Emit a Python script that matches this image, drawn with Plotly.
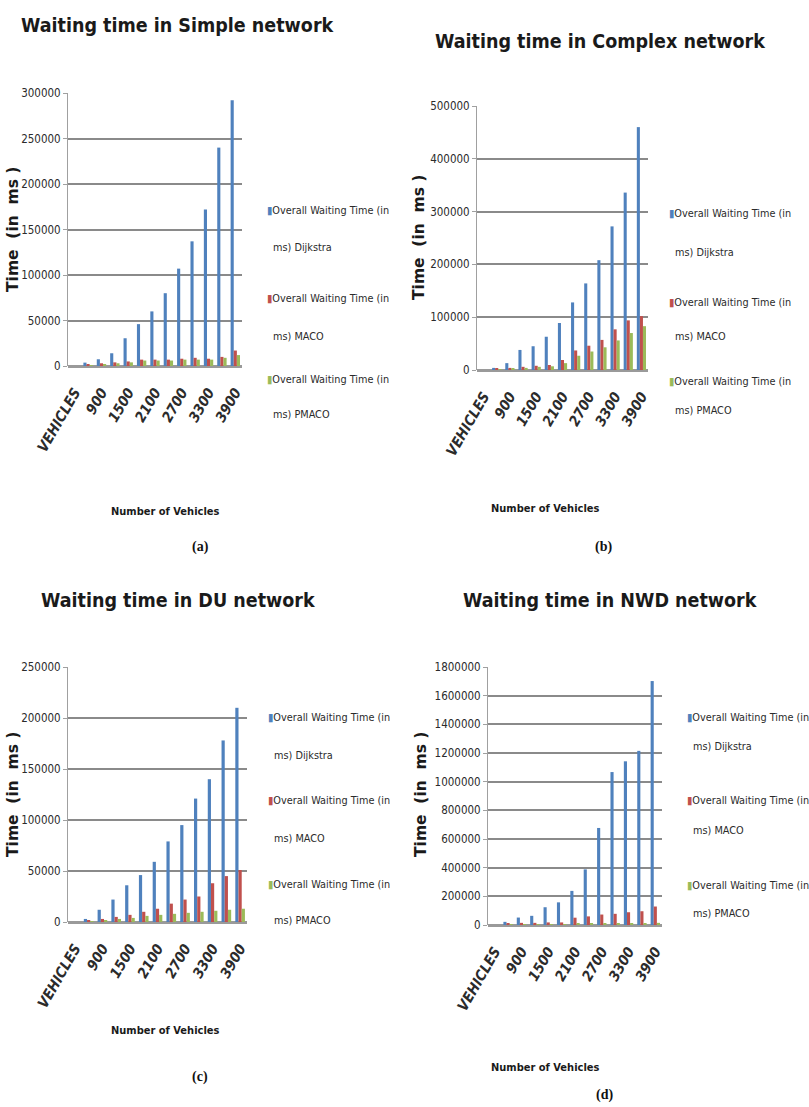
import plotly.graph_objects as go

W, H = 809, 1107

categories = ["VEHICLES", "600", "900", "1200", "1500", "1800", "2100",
              "2400", "2700", "3000", "3300", "3600", "3900"]
tick_labels = ["VEHICLES", "900", "1500", "2100", "2700", "3300", "3900"]

series_names = ["Dijkstra", "MACO", "PMACO"]
colors = ["#4F81BD", "#C0504D", "#9BBB59"]

# (a) Simple network
simple_dijkstra = [0, 3700, 7400, 14000, 30500, 46000, 60000, 80000, 107000, 137000, 172000, 240000, 292000]
simple_maco = [0, 2000, 3000, 4000, 5000, 7000, 7000, 7000, 8000, 9000, 8000, 10000, 17000]
simple_pmaco = [0, 1000, 2000, 3000, 4000, 6000, 6000, 6000, 7000, 7000, 7000, 9000, 12000]

# (b) Complex network
complex_dijkstra = [0, 4000, 13000, 38000, 45000, 63000, 89000, 128000, 164000, 208000, 272000, 336000, 460000]
complex_maco = [0, 2000, 4000, 6000, 8000, 9500, 19000, 37000, 46000, 57000, 77000, 94000, 102000]
complex_pmaco = [0, 1000, 2500, 4000, 6000, 7000, 13000, 27000, 35000, 43000, 56000, 70000, 83000]

# (c) DU network
du_dijkstra = [0, 3000, 12000, 22000, 36000, 46000, 59000, 79000, 95000, 121000, 140000, 178000, 210000]
du_maco = [0, 1000, 3000, 5000, 7000, 10000, 13000, 18000, 22000, 25000, 38000, 45000, 51000]
du_pmaco = [0, 500, 1500, 3000, 4000, 6000, 7000, 8000, 9000, 10000, 11000, 12000, 13000]

# (d) NWD network
nwd_dijkstra = [0, 22000, 52000, 64000, 124000, 158000, 238000, 388000, 677000, 1067000, 1142000, 1215000, 1702000]
nwd_maco = [0, 10000, 15000, 15000, 18000, 18000, 51000, 60000, 73000, 78000, 89000, 96000, 129000]
nwd_pmaco = [0, 3000, 4000, 5000, 6000, 7000, 8000, 9000, 10000, 11000, 12000, 13000, 15000]

titles = ["Waiting time in Simple network", "Waiting time in Complex network",
          "Waiting time in DU network", "Waiting time in NWD network"]
panel_letters = ["(a)", "(b)", "(c)", "(d)"]
y_max = [300000, 500000, 250000, 1800000]
y_step = [50000, 100000, 50000, 200000]

panels = [
    [simple_dijkstra, simple_maco, simple_pmaco],
    [complex_dijkstra, complex_maco, complex_pmaco],
    [du_dijkstra, du_maco, du_pmaco],
    [nwd_dijkstra, nwd_maco, nwd_pmaco],
]

# layout geometry in pixels (left, right, top, bottom) of each plot area
plot_boxes = [(68, 242, 93, 366), (477, 648, 106, 370), (68, 247, 667, 922), (488, 662, 667, 925)]
title_pos = [(177, 25), (600, 42), (178, 600), (610, 600)]
ytitle_pos = [(13, 230), (419, 238), (13, 795), (421, 795)]
xtitle_pos = [(165, 512), (545, 508), (165, 1030), (545, 1067)]
letter_pos = [(200, 547), (603, 547), (200, 1077), (604, 1095)]
legend_x = [265, 667, 266, 685]
legend_rows = [
    [(210, 248), (298, 337), (380, 414)],
    [(214, 252), (302, 337), (381, 410)],
    [(717, 755), (800, 838), (884, 920)],
    [(717, 746), (800, 830), (885, 913)],
]

NARROW = "DejaVu Sans Condensed, Liberation Sans Narrow, sans-serif"
TXT = "#2b2b2b"


def px(x):
    return x / W


def py(y):
    return 1 - y / H


fig = go.Figure()
annotations = []

for i, (vals, box) in enumerate(zip(panels, plot_boxes)):
    k = i + 1
    xa = "x" if k == 1 else f"x{k}"
    ya = "y" if k == 1 else f"y{k}"
    for name, col, v in zip(series_names, colors, vals):
        fig.add_trace(go.Bar(
            x=categories, y=v, name=f"Overall Waiting Time (in ms) {name}",
            marker=dict(color=col, line=dict(width=0)),
            xaxis=xa, yaxis=ya, showlegend=False, offsetgroup=name,
        ))
    l, r, t, b = box
    xkey = "xaxis" if k == 1 else f"xaxis{k}"
    ykey = "yaxis" if k == 1 else f"yaxis{k}"
    fig.layout[xkey] = dict(
        domain=[px(l), px(r)], anchor=ya, type="category",
        categoryorder="array", categoryarray=categories,
        tickmode="array", tickvals=tick_labels, ticktext=tick_labels,
        tickangle=-60, showgrid=False, showline=False, ticks="",
        ticklabelstandoff=14,
        tickfont=dict(family=NARROW, size=14.5, color=TXT, style="italic", weight="bold"),
        automargin=False, fixedrange=True,
    )
    fig.layout[ykey] = dict(
        domain=[py(b), py(t)], anchor=xa, range=[0, y_max[i]],
        dtick=y_step[i], tick0=0, tickformat="d",
        showgrid=True, gridcolor="#8a8a8a", gridwidth=2,
        zeroline=True, zerolinecolor="#9a9a9a", zerolinewidth=3,
        showline=True, linecolor="#a0a0a0", linewidth=1,
        ticks="outside", ticklen=4, tickcolor="#a0a0a0",
        tickfont=dict(family=NARROW, size=11.5, color=TXT),
        automargin=False, fixedrange=True,
    )

    # title
    annotations.append(dict(
        x=px(title_pos[i][0]), y=py(title_pos[i][1]), xref="paper", yref="paper",
        text=titles[i], showarrow=False, xanchor="center", yanchor="middle",
        font=dict(family=NARROW, size=19.5, color="#1a1a1a", weight="bold"),
    ))
    # y axis title
    annotations.append(dict(
        x=px(ytitle_pos[i][0]), y=py(ytitle_pos[i][1]), xref="paper", yref="paper",
        text="Time  (in  ms )", showarrow=False, textangle=-90,
        xanchor="center", yanchor="middle",
        font=dict(family="DejaVu Sans, sans-serif", size=15.5, color="#1a1a1a", weight="bold"),
    ))
    # x axis title
    annotations.append(dict(
        x=px(xtitle_pos[i][0]), y=py(xtitle_pos[i][1]), xref="paper", yref="paper",
        text="Number of Vehicles", showarrow=False, xanchor="center", yanchor="middle",
        font=dict(family=NARROW, size=11, color="#1a1a1a", weight=600),
    ))
    # panel letter
    annotations.append(dict(
        x=px(letter_pos[i][0]), y=py(letter_pos[i][1]), xref="paper", yref="paper",
        text="<b>" + panel_letters[i] + "</b>", showarrow=False,
        xanchor="center", yanchor="middle",
        font=dict(family="Liberation Serif, serif", size=14, color="#111111"),
    ))
    # legend
    for (y1, y2), name, col in zip(legend_rows[i], series_names, colors):
        annotations.append(dict(
            x=px(legend_x[i]), y=py(y1), xref="paper", yref="paper",
            text=f"<span style='color:{col}'>▮</span>Overall Waiting Time (in",
            showarrow=False, xanchor="left", yanchor="middle",
            font=dict(family=NARROW, size=10.8, color=TXT),
        ))
        annotations.append(dict(
            x=px(legend_x[i] + 6), y=py(y2), xref="paper", yref="paper",
            text=f"ms) {name}",
            showarrow=False, xanchor="left", yanchor="middle",
            font=dict(family=NARROW, size=10.8, color=TXT),
        ))

fig.update_layout(
    width=W, height=H, autosize=False,
    margin=dict(l=0, r=0, t=0, b=0, pad=0, autoexpand=False),
    paper_bgcolor="white", plot_bgcolor="white",
    barmode="group", bargap=0.3, bargroupgap=0.0,
    annotations=annotations, showlegend=False,
)

fig.write_html("out.html", config={"displayModeBar": False},
               post_script="document.body.style.margin='0';document.body.style.overflow='hidden';")
